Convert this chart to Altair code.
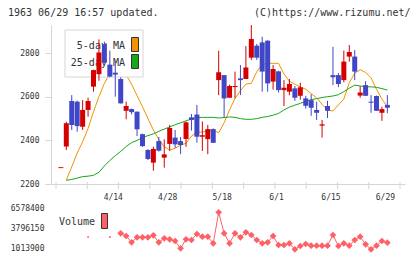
import altair as alt
import pandas as pd

TITLE_LEFT = "1963 06/29 16:57 updated."
TITLE_RIGHT = "(C)https://www.rizumu.net/"
DATE_LABELS = ["4/14", "4/28", "5/18", "6/1", "6/15", "6/29"]
DATE_LABEL_IDX = [10, 20, 30, 40, 50, 60]
PRICE_TICKS = [2200, 2400, 2600, 2800]
VOLUME_TICKS = [1013900, 3796150, 6578400]
LEGEND_LABELS = ["5-day MA", "25-day MA"]
VOLUME_LABEL = "Volume"

OPEN = [2273, 2372, 2581, 2578, 2463, 2540, 2647, 2704, 2842, 2748, 2711, 2682, 2536, 2544, 2532,
        2429, 2356, 2298, 2397, 2321, 2384, 2413, 2397, 2407, 2506, 2519, 2417, 2406, 2452, 2677,
        2700, 2596, 2645, 2685, 2682, 2780, 2835, 2850, 2858, 2670, 2717, 2631, 2624, 2639, 2605,
        2593, 2585, 2540, 2468, 2558, 2700, 2700, 2677, 2785, 2785, 2606, 2654, 2578, 2604, 2527, 2563]
CLOSE = [2277, 2479, 2471, 2466, 2540, 2581, 2723, 2804, 2757, 2693, 2702, 2570, 2558, 2530, 2451,
         2374, 2315, 2361, 2353, 2336, 2457, 2382, 2379, 2483, 2494, 2417, 2424, 2452, 2389, 2713,
         2593, 2650, 2650, 2677, 2735, 2866, 2780, 2716, 2662, 2728, 2631, 2642, 2659, 2596, 2644,
         2559, 2550, 2527, 2474, 2536, 2690, 2659, 2762, 2806, 2716, 2620, 2605, 2573, 2536, 2544, 2550]
HIGH = [2277, 2486, 2608, 2583, 2585, 2596, 2725, 2864, 2853, 2812, 2763, 2690, 2578, 2546, 2533,
        2431, 2360, 2371, 2416, 2405, 2471, 2448, 2416, 2487, 2521, 2563, 2487, 2471, 2455, 2812,
        2700, 2656, 2716, 2746, 2833, 2930, 2843, 2876, 2860, 2746, 2720, 2677, 2682, 2650, 2665,
        2605, 2612, 2578, 2494, 2582, 2830, 2710, 2812, 2838, 2815, 2648, 2672, 2608, 2606, 2555, 2608]
LOW = [2273, 2356, 2448, 2440, 2448, 2509, 2624, 2674, 2757, 2690, 2601, 2570, 2497, 2520, 2420,
       2370, 2310, 2261, 2349, 2275, 2352, 2366, 2337, 2371, 2445, 2390, 2352, 2337, 2389, 2608,
       2506, 2596, 2593, 2608, 2682, 2770, 2770, 2624, 2624, 2633, 2620, 2558, 2608, 2582, 2587,
       2546, 2513, 2494, 2413, 2503, 2654, 2645, 2667, 2762, 2677, 2596, 2605, 2527, 2536, 2490, 2525]
MA5 = [None, 2218, 2279, 2342, 2394, 2455, 2532, 2601, 2662, 2708, 2740, 2745, 2700, 2658, 2606,
       2555, 2501, 2448, 2405, 2371, 2356, 2364, 2378, 2387, 2420, 2437, 2439, 2443, 2448, 2435,
       2481, 2540, 2593, 2628, 2659, 2662, 2716, 2749, 2754, 2754, 2754, 2705, 2672, 2658, 2645,
       2635, 2615, 2595, 2566, 2540, 2535, 2563, 2590, 2665, 2708, 2725, 2712, 2688, 2635, 2590, 2555]
MA25 = [None, 2217, 2221, 2227, 2234, 2236, 2240, 2254, 2283, 2308, 2330, 2350, 2372, 2390, 2400,
        2414, 2422, 2430, 2442, 2452, 2462, 2472, 2481, 2490, 2498, 2504, 2506, 2506, 2506, 2503,
        2505, 2508, 2506, 2500, 2497, 2497, 2500, 2506, 2510, 2516, 2524, 2540, 2553, 2562, 2570,
        2580, 2587, 2592, 2597, 2601, 2604, 2610, 2624, 2640, 2654, 2650, 2647, 2646, 2644, 2638, 2631]
VOLUME = [None] * 11 + [
    3059000, 2683000, 1807000, 2502000, 2502000, 2502000, 2781000, 1807000, 2363000, 2224000,
    1987000, 972000, 2224000, 2127000, 2961000, 2585000, 2585000, 1668000, 5980000, 3059000,
    1668000, 3059000, 2502000, 3198000, 2822000, 2127000, 1668000, 1807000, 2683000, 1431000,
    1431000, 1668000, 833000, 1292000, 1570000, 1334000, 1334000, 1334000, 1334000, 2822000,
    1292000, 1668000, 1334000, 2127000, 2585000, 1529000, 833000, 1334000, 1987000, 1751000]
VOL_DOT_IDX = [5, 9]
VOL_DOT_VAL = [2544000, 2544000]

n = len(OPEN)
df = pd.DataFrame({"i": list(range(n)), "open": OPEN, "high": HIGH, "low": LOW,
                   "close": CLOSE, "ma5": MA5, "ma25": MA25, "vol": VOLUME})
dots = pd.DataFrame({"i": VOL_DOT_IDX, "vol": VOL_DOT_VAL})

W, H, PH = 354, 227, 159
XDOM = [-0.893, 62.32]
FONT = "DejaVu Sans Mono"
RED, BLUE = "#d40000", "#3f47c6"
ORANGE, GREEN = "#f39200", "#16a816"
VCOL = "#ff5f67"
GRAY = "#d6d6d6"
TXT = "#333333"

label_expr = ""
for idx, lab in zip(DATE_LABEL_IDX, DATE_LABELS):
    label_expr += f"datum.value == {idx} ? '{lab}' : "
label_expr += "''"

x_axis = alt.Axis(values=DATE_LABEL_IDX, labelExpr=label_expr, ticks=False, grid=False,
                  domainColor=GRAY, labelFont=FONT, labelFontSize=8, labelColor=TXT,
                  labelPadding=9, labelOffset=-2.5, labelFlush=False, labelOverlap=False,
                  offset=-(H - PH), title=None)
x_scale = alt.Scale(domain=XDOM, nice=False, zero=False)


def X(field="i:Q"):
    return alt.X(field, scale=x_scale, axis=x_axis)


py_scale = alt.Scale(domain=[2200, 2930], range=[PH, 0], nice=False, zero=False)
py_axis = alt.Axis(values=PRICE_TICKS, format="d", orient="left", grid=False, domainColor=GRAY,
                   tickColor=GRAY, tickSize=6, labelPadding=6, labelFont=FONT, labelFontSize=8,
                   labelColor=TXT, title=None)
vy_scale = alt.Scale(domain=[457450, 7134850], range=[H, H - 48], nice=False, zero=False)
vy_axis = alt.Axis(values=VOLUME_TICKS, format="d", orient="left", grid=False, domain=False,
                   ticks=False, labelPadding=7, labelFont=FONT, labelFontSize=8, labelColor=TXT,
                   title=None)


def PY(field):
    return alt.Y(field, scale=py_scale, axis=py_axis)


one = alt.Data(values=[{"k": 1}])
color_enc = alt.Color("dir:N", scale=alt.Scale(domain=["up", "down"], range=[RED, BLUE]), legend=None)

ma5 = alt.Chart(df).mark_line(color=ORANGE, strokeWidth=1).encode(x=X(), y=PY("ma5:Q"))
ma25 = alt.Chart(df).mark_line(color=GREEN, strokeWidth=1).encode(x=X(), y=PY("ma25:Q"))

leg_box = alt.Chart(one).mark_rect(fill="white", stroke=GRAY, strokeWidth=1).encode(
    x=alt.value(14), x2=alt.value(92), y=alt.value(5), y2=alt.value(52))
leg_t1 = alt.Chart(one).mark_text(font=FONT, fontSize=10, color=TXT, align="right", baseline="middle").encode(
    x=alt.value(74), y=alt.value(21), text=alt.value(LEGEND_LABELS[0]))
leg_t2 = alt.Chart(one).mark_text(font=FONT, fontSize=10, color=TXT, align="right", baseline="middle").encode(
    x=alt.value(74), y=alt.value(37.5), text=alt.value(LEGEND_LABELS[1]))
leg_s1 = alt.Chart(one).mark_rect(fill=ORANGE, stroke="#333333", strokeWidth=1).encode(
    x=alt.value(80.5), x2=alt.value(87.5), y=alt.value(12.5), y2=alt.value(26.5))
leg_s2 = alt.Chart(one).mark_rect(fill=GREEN, stroke="#333333", strokeWidth=1).encode(
    x=alt.value(80.5), x2=alt.value(87.5), y=alt.value(29.5), y2=alt.value(43.5))

wicks = alt.Chart(df).transform_calculate(
    dir="datum.close >= datum.open ? 'up' : 'down'"
).mark_rule(strokeWidth=1).encode(x=X(), y=PY("low:Q"), y2="high:Q", color=color_enc)
bodies = alt.Chart(df).transform_calculate(
    dir="datum.close >= datum.open ? 'up' : 'down'"
).mark_bar(size=5).encode(x=X(), y=PY("open:Q"), y2="close:Q", color=color_enc)

tick_k = list(range(12))
ticks_df = pd.DataFrame({"t": [XDOM[0] + k * (XDOM[1] - XDOM[0]) / 11 for k in tick_k]})
xticks = alt.Chart(ticks_df).mark_rule(color=GRAY, strokeWidth=1).encode(
    x=X("t:Q"), y=alt.value(PH - 2), y2=alt.value(PH + 5))

title_l = alt.Chart(one).mark_text(font=FONT, fontSize=10, color=TXT, align="left", baseline="middle").encode(
    x=alt.value(-43), y=alt.value(-12.5), text=alt.value(TITLE_LEFT))
title_r = alt.Chart(one).mark_text(font=FONT, fontSize=10, color=TXT, align="left", baseline="middle").encode(
    x=alt.value(203), y=alt.value(-12.5), text=alt.value(TITLE_RIGHT))

price = alt.layer(ma5, ma25, leg_box, leg_t1, leg_t2, leg_s1, leg_s2, wicks, bodies, xticks, title_l, title_r)

vline = alt.Chart(df).mark_line(color=VCOL, strokeWidth=1).encode(
    x=X(), y=alt.Y("vol:Q", scale=vy_scale, axis=vy_axis))
vpts = alt.Chart(df).mark_point(shape="diamond", filled=True, size=45, color=VCOL, opacity=1).encode(
    x=X(), y=alt.Y("vol:Q", scale=vy_scale, axis=vy_axis))
vdots = alt.Chart(dots).mark_point(shape="square", filled=True, size=3, color=VCOL, opacity=1).encode(
    x=X(), y=alt.Y("vol:Q", scale=vy_scale, axis=vy_axis))
vleg_t = alt.Chart(one).mark_text(font=FONT, fontSize=10, color=TXT, align="left", baseline="middle").encode(
    x=alt.value(8), y=alt.value(196.5), text=alt.value(VOLUME_LABEL))
vleg_s = alt.Chart(one).mark_rect(fill=VCOL, stroke="#333333", strokeWidth=1).encode(
    x=alt.value(50.5), x2=alt.value(56.5), y=alt.value(188.5), y2=alt.value(203.5))

volume = alt.layer(vline, vpts, vdots, vleg_t, vleg_s)

chart = alt.layer(price, volume).resolve_scale(y="independent").properties(
    width=W, height=H,
    padding={"left": 51, "top": 25, "right": 15, "bottom": 7},
    autosize=alt.AutoSizeParams(type="none"),
    background="white",
).configure_view(stroke=None)

chart.save("out.html", embed_options={"renderer": "svg", "actions": False})
